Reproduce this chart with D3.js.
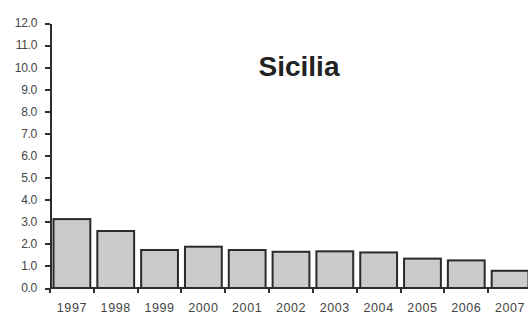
<!DOCTYPE html>
<html>
<head>
    <meta charset="UTF-8">
    <title>Sicilia</title>
    <style type="text/css">
        body { margin: 0; background: #fff; }
        .axis text { font-family: "Liberation Sans", Arial, sans-serif; fill: #444; }
        .y-axis text { font-size: 12px; letter-spacing: -0.3px; }
        .x-axis text { font-size: 12.5px; letter-spacing: 0.6px; }
        .axis path, .axis line { stroke: #2e2e2e; stroke-width: 2px; shape-rendering: crispEdges; }
        .bar { fill: #cbcbcb; stroke: #2a2a2a; stroke-width: 2px; }
        .chart-title { font-family: "Liberation Sans", Arial, sans-serif; font-size: 28px; font-weight: bold; fill: #222; text-anchor: middle; }
    </style>
    <script src="https://d3js.org/d3.v7.min.js"></script>
</head>
<body>
<script type="text/javascript">
    // Data
    const years = ["1997", "1998", "1999", "2000", "2001", "2002", "2003", "2004", "2005", "2006", "2007"];
    const values = [3.12, 2.58, 1.72, 1.87, 1.72, 1.64, 1.66, 1.61, 1.33, 1.25, 0.78];
    const yTicks = [0, 1, 2, 3, 4, 5, 6, 7, 8, 9, 10, 11, 12];
    const title = "Sicilia";

    const margin = { top: 23, right: 0, bottom: 26, left: 50 };
    const W = 528, H = 314;
    const width = 532 - margin.left;
    const height = H - margin.top - margin.bottom;

    const svg = d3.select("body")
        .append("svg")
        .attr("width", W)
        .attr("height", H)
        .append("g")
        .attr("transform", `translate(${margin.left},${margin.top})`);

    const x = d3.scaleBand()
        .domain(years)
        .range([0, width])
        .paddingInner(0.16)
        .paddingOuter(0.08);

    const y = d3.scaleLinear()
        .domain([0, 12])
        .range([height, 0]);

    // Bars
    svg.selectAll(".bar")
        .data(years)
        .enter()
        .append("rect")
        .attr("class", "bar")
        .attr("x", d => x(d))
        .attr("width", x.bandwidth())
        .attr("y", (d, i) => y(values[i]))
        .attr("height", (d, i) => height - y(values[i]));

    // Y axis
    svg.append("g")
        .attr("class", "axis y-axis")
        .call(d3.axisLeft(y).tickValues(yTicks).tickFormat(d3.format(".1f")).tickSize(5).tickSizeOuter(0))
        .call(g => g.selectAll("text").attr("x", -13));

    // X axis with ticks at band boundaries
    const xAxis = svg.append("g")
        .attr("class", "axis x-axis")
        .attr("transform", `translate(0,${height})`);
    xAxis.append("line")
        .attr("x1", 0).attr("x2", width);
    const step = x.step();
    xAxis.selectAll(".tick")
        .data(years)
        .enter()
        .append("line")
        .attr("x1", d => x(d) - x.paddingInner() * step / 2)
        .attr("x2", d => x(d) - x.paddingInner() * step / 2)
        .attr("y1", 0).attr("y2", 5);
    xAxis.selectAll("text")
        .data(years)
        .enter()
        .append("text")
        .attr("x", d => x(d) + x.bandwidth() / 2)
        .attr("y", 24)
        .attr("text-anchor", "middle")
        .text(d => d);

    // Title
    svg.append("text")
        .attr("class", "chart-title")
        .attr("x", 299 - margin.left)
        .attr("y", 76 - margin.top)
        .text(title);
</script>
</body>
</html>
